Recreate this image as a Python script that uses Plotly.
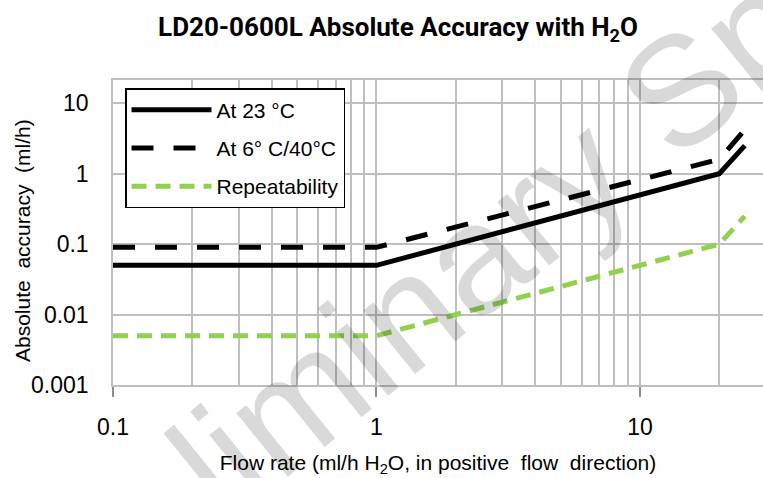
import plotly.graph_objects as go

# ---- data ----
flow = [0.1, 1, 20, 25]
acc_23c = [0.05, 0.05, 1.0, 2.5]
acc_6c_40c = [0.09, 0.09, 1.6, 4.2]
repeatability = [0.005, 0.005, 0.1, 0.25]

series_names = ["At 23 °C", "At 6° C/40°C", "Repeatability"]
x_tick_vals = [0.1, 1, 10]
x_tick_text = ["0.1", "1", "10"]
y_tick_vals = [0.001, 0.01, 0.1, 1, 10]
y_tick_text = ["0.001", "0.01", "0.1", "1", "10"]
x_minor_vals = [0.2, 0.3, 0.4, 0.5, 0.6, 0.7, 0.8, 0.9,
                2, 3, 4, 5, 6, 7, 8, 9, 20]

FONT = "Liberation Sans, Arial, sans-serif"
GRID = "#bfbfbf"
W, H = 763, 478
ML, MR, MT, MB = 113, 0, 80, 93
PW, PH = W - ML - MR, H - MT - MB

fig = go.Figure()
fig.add_trace(go.Scatter(x=flow, y=acc_23c, mode="lines", name=series_names[0],
                         legendgroup="a",
                         line=dict(color="black", width=5)))
fig.add_trace(go.Scatter(x=flow, y=acc_6c_40c, mode="lines", name=series_names[1],
                         legendgroup="b",
                         line=dict(color="black", width=5, dash="22px,20px")))
fig.add_trace(go.Scatter(x=flow, y=repeatability, mode="lines", name=series_names[2],
                         legendgroup="c",
                         line=dict(color="#92D050", width=5, dash="15px,9px")))

fig.update_layout(
    width=W, height=H,
    margin=dict(l=ML, r=MR, t=MT, b=MB),
    paper_bgcolor="white", plot_bgcolor="white",
    font=dict(family=FONT, color="black", size=21),
    title=dict(text="LD20-0600L Absolute Accuracy with H<sub>2</sub>O",
               x=398 / W, xanchor="center", y=1 - 27 / H, yanchor="middle",
               font=dict(family="Roboto, Liberation Sans, sans-serif",
                         size=26, color="black", weight="bold")),
    legend=dict(x=12 / PW, y=1 - 8 / PH, xanchor="left", yanchor="top",
                bgcolor="white", bordercolor="black", borderwidth=1.5,
                font=dict(family=FONT, size=21, color="black"),
                itemwidth=80, tracegroupgap=8),
    showlegend=True,
)

fig.update_xaxes(
    type="log", range=[-1, 1.467],
    tickvals=x_tick_vals, ticktext=x_tick_text,
    tickfont=dict(size=23), ticks="outside", ticklen=10, tickwidth=1.5,
    tickcolor="#8c8c8c", ticklabelstandoff=11,
    showgrid=True, gridcolor=GRID, gridwidth=1.5,
    minor=dict(tickvals=x_minor_vals, showgrid=True, gridcolor=GRID,
               gridwidth=1.5, ticks=""),
    showline=True, linecolor=GRID, linewidth=1.5, mirror=True,
    zeroline=False,
    title=dict(text="Flow rate (ml/h H<sub>2</sub>O, in positive  flow  direction)",
               font=dict(size=21), standoff=16),
)
fig.update_yaxes(
    type="log", range=[-3, 1.33],
    tickvals=y_tick_vals, ticktext=y_tick_text,
    tickfont=dict(size=23), ticks="", ticklabelstandoff=18,
    showgrid=True, gridcolor=GRID, gridwidth=1.5,
    showline=True, linecolor=GRID, linewidth=1.5,
    zeroline=False,
)

# y-axis title placed as a rotated annotation
fig.add_annotation(text="Absolute  accuracy  (ml/h)", xref="paper", yref="paper",
                   x=(22 - ML) / PW, y=(MT + PH - 240) / PH,
                   xanchor="center", yanchor="middle", showarrow=False,
                   textangle=-90, font=dict(family=FONT, size=21, color="black"))

# faint diagonal watermark
fig.add_annotation(text="Preliminary Spec", xref="paper", yref="paper",
                   x=(460 - ML) / PW, y=(MT + PH - 268) / PH,
                   showarrow=False, textangle=-39,
                   font=dict(family=FONT, size=155, color="rgba(0,0,0,0.15)"))

fig.write_html("out.html", config={"displayModeBar": False},
               post_script="document.body.style.margin='0';")
